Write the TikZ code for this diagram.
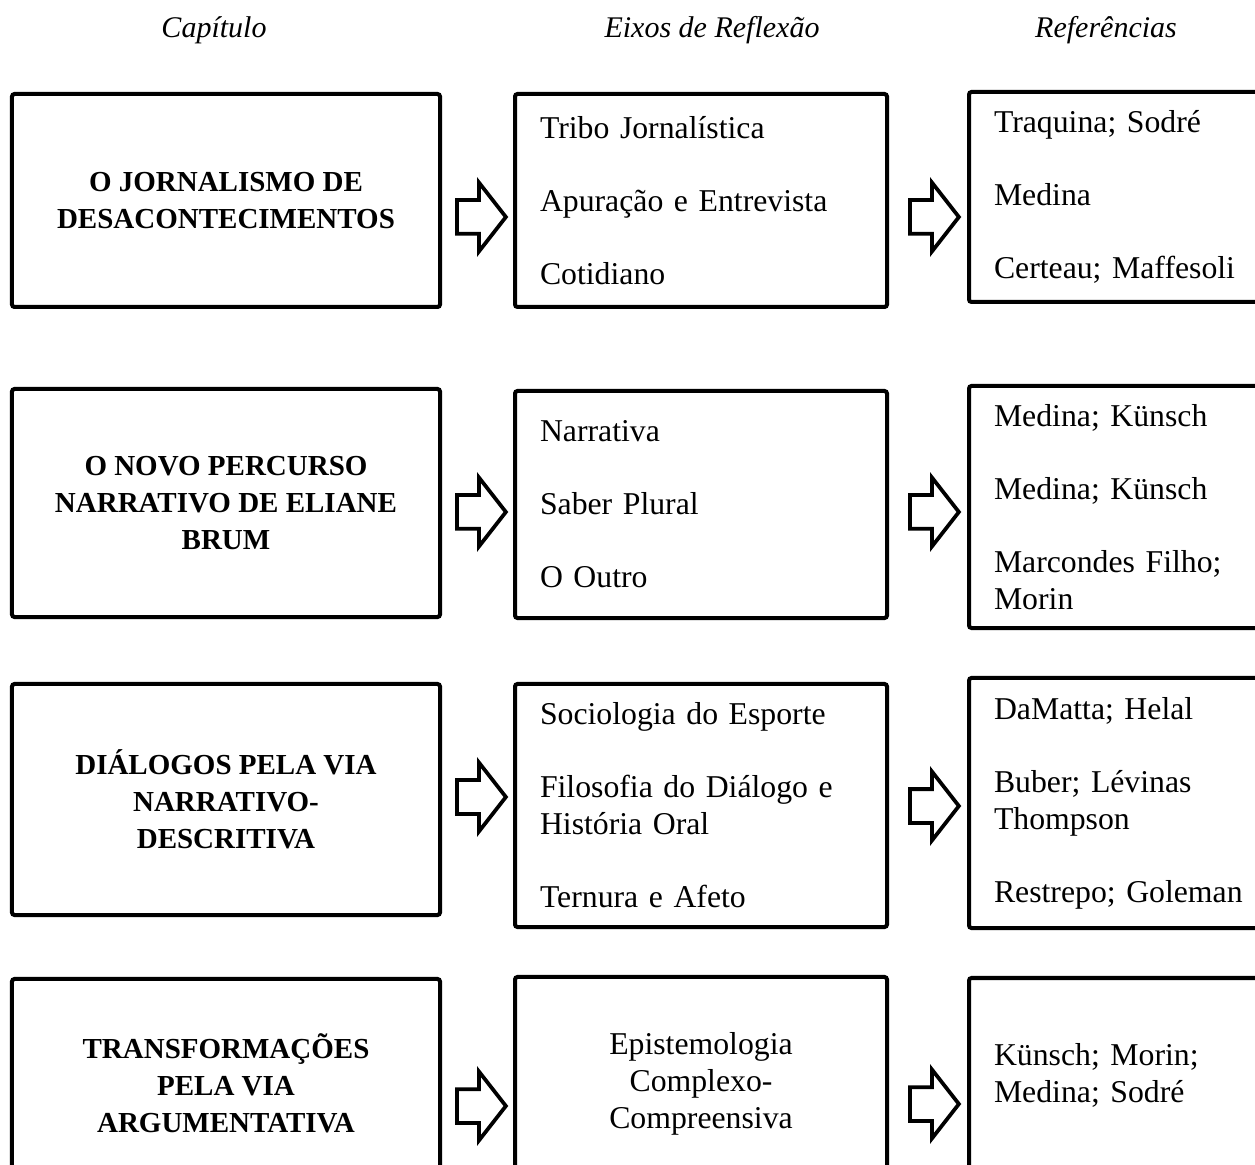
\documentclass[tikz,border=0pt]{standalone}
\usepackage{fontspec}
\setmainfont{Liberation Serif}
\usetikzlibrary{shapes.arrows,calc}

\begin{document}
\begin{tikzpicture}[
    x=0.4pt, y=-0.4pt,
    every node/.style={font=\fontsize{12.7}{14.8}\selectfont},
    head/.style={font=\fontsize{12}{14.8}\selectfont\itshape},
    chapbox/.style={draw, line width=1.6pt, rounded corners=1pt, align=center,
      minimum width=171.2pt, font=\fontsize{11.6}{14.8}\selectfont\bfseries},
    axisbox/.style={draw, line width=1.6pt, rounded corners=1pt, align=left,
      inner xsep=10pt, text width=128.8pt, minimum width=148.8pt},
    refbox/.style={draw, line width=1.6pt, rounded corners=1pt, align=left,
      inner xsep=10pt, text width=108.4pt, minimum width=128.4pt},
    blockarr/.style={single arrow, draw, line width=1.5pt, inner xsep=0pt,
      inner ysep=6pt, single arrow head extend=7pt,
      single arrow tip angle=104, minimum height=19.6pt, anchor=tail}
  ]
    \useasboundingbox (0,0) rectangle (1255,1165);
    \clip (0,0) rectangle (1255,1165);

    % column heads
    \node[head] (hcap) at (214,30) {Capítulo};
    \node[head] (heixo) at (712,30) {Eixos de Reflexão};
    \node[head] (href) at (1106,30) {Referências};

    % row 1
    \node[chapbox, minimum height=85.2pt] (chap1) at (226,200.5)
      {O JORNALISMO DE\\DESACONTECIMENTOS};
    \node[axisbox, minimum height=85.2pt] (axis1) at (701,200.5)
      {Tribo Jornalística\\[14.4pt] Apuração e Entrevista\\[14.4pt] Cotidiano};
    \node[refbox, minimum height=84pt] (refs1) at (1129.5,197)
      {Traquina; Sodré\\[14.4pt] Medina\\[14.4pt] Certeau; Maffesoli};

    % row 2
    \node[chapbox, minimum height=91.2pt] (chap2) at (226,503)
      {O NOVO PERCURSO\\NARRATIVO DE ELIANE\\BRUM};
    \node[axisbox, minimum height=90.8pt] (axis2) at (701,504.5)
      {Narrativa\\[14.4pt] Saber Plural\\[14.4pt] O Outro};
    \node[refbox, minimum height=96.8pt] (refs2) at (1129.5,507)
      {Medina; Künsch\\[14.4pt] Medina; Künsch\\[14.4pt] Marcondes Filho;\\Morin};

    % row 3
    \node[chapbox, minimum height=92.4pt] (chap3) at (226,799.5)
      {DIÁLOGOS PELA VIA\\NARRATIVO-\\DESCRITIVA};
    \node[axisbox, minimum height=97.2pt] (axis3) at (701,805.5)
      {Sociologia do Esporte\\[14.4pt] Filosofia do Diálogo e\\História Oral\\[14.4pt] Ternura e Afeto};
    \node[refbox, minimum height=100pt] (refs3) at (1129.5,803)
      {DaMatta; Helal\\[14.4pt] Buber; Lévinas\\Thompson\\[14.4pt] Restrepo; Goleman};

    % row 4
    \node[chapbox, minimum height=83.6pt] (chap4) at (226,1083.5)
      {TRANSFORMAÇÕES\\PELA VIA\\ARGUMENTATIVA};
    \node[axisbox, align=center, minimum height=85.6pt] (axis4) at (701,1084)
      {Epistemologia\\Complexo-\\Compreensiva};
    \node[refbox, minimum height=77.6pt] (refs4) at (1129.5,1075)
      {Künsch; Morin;\\Medina; Sodré};

    % block arrows
    \node[blockarr] (a1) at ($(chap1.east |- 0,217)+(13,0)$) {};
    \node[blockarr] (b1) at ($(axis1.east |- 0,217)+(19,0)$) {};
    \node[blockarr] (a2) at ($(chap2.east |- 0,512)+(13,0)$) {};
    \node[blockarr] (b2) at ($(axis2.east |- 0,512)+(19,0)$) {};
    \node[blockarr] (a3) at ($(chap3.east |- 0,797)+(13,0)$) {};
    \node[blockarr] (b3) at ($(axis3.east |- 0,806)+(19,0)$) {};
    \node[blockarr] (a4) at ($(chap4.east |- 0,1106)+(13,0)$) {};
    \node[blockarr] (b4) at ($(axis4.east |- 0,1104)+(19,0)$) {};
  \end{tikzpicture}
\end{document}
